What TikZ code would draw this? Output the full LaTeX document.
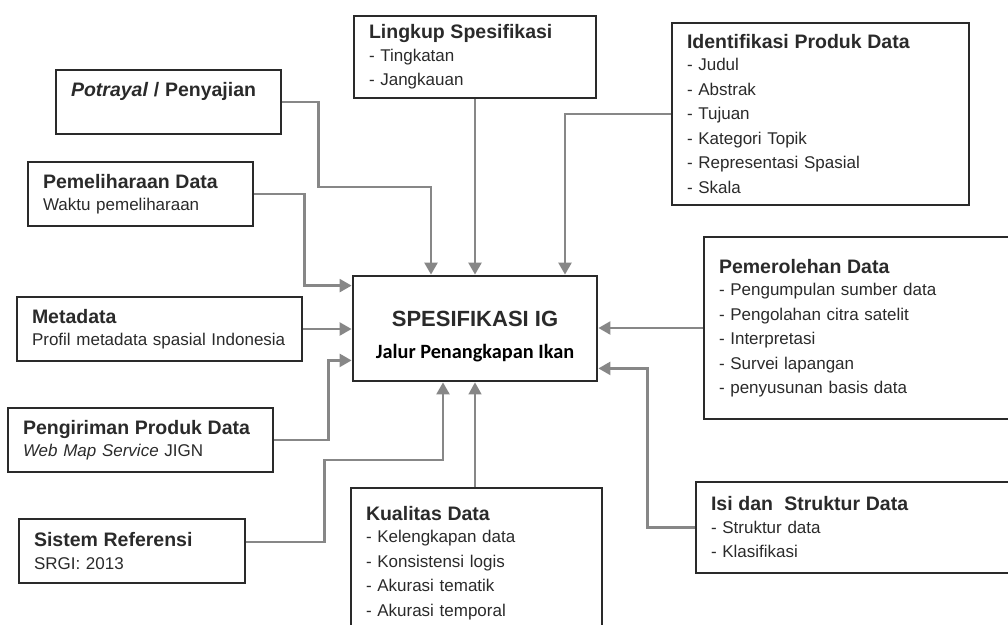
\documentclass[tikz,border=0pt]{standalone}
\usepackage{fontspec}
\setmainfont{Liberation Sans}
\newfontfamily\carlito{Carlito}
\usetikzlibrary{arrows.meta}
\definecolor{tepi}{HTML}{2A2A2A}
\definecolor{abu}{HTML}{878787}
\newcommand{\judul}[1]{{\fontsize{19.5}{24.5}\selectfont\bfseries #1}}
\begin{document}
\begin{tikzpicture}[x=1pt, y=-1pt,
  kotak/.style={draw=tepi, line width=2.8pt, rectangle, align=left, inner xsep=15pt, inner ysep=2pt,
    text=tepi, font=\fontsize{17}{24.5}\selectfont},
  panah/.style={draw=abu, line width=2.4pt, -{Triangle[width=13pt,length=12pt]}}]
\useasboundingbox (0,0) rectangle (1008,624);
\clip (0,0) rectangle (1008,624);
\node[kotak, text width=195pt, minimum height=64pt] (potrayal) at (168.5,102){\judul{\textit{Potrayal} / Penyajian}\\ \mbox{}};
\node[kotak, text width=195pt, minimum height=64pt] (pemeliharaan) at (140.5,194){\judul{Pemeliharaan Data}\\[-2pt] Waktu pemeliharaan};
\node[kotak, text width=255pt, minimum height=64pt] (metadata) at (159.5,329){\judul{Metadata}\\[-2pt] Profil metadata spasial Indonesia};
\node[kotak, text width=235pt, minimum height=64pt] (pengiriman) at (140.5,440){\judul{Pengiriman Produk Data}\\[-2pt] \textit{Web Map Service} JIGN};
\node[kotak, text width=196pt, minimum height=64pt] (sistem) at (132,551){\judul{Sistem Referensi}\\[-2pt] SRGI: 2013};
\node[kotak, text width=212pt, minimum height=82pt] (lingkup) at (475,57){\judul{Lingkup Spesifikasi}\\[-2pt] - Tingkatan\\ - Jangkauan};
\node[kotak, text width=267pt, minimum height=182pt] (identifikasi) at (820.5,114){\judul{Identifikasi Produk Data}\\[-2pt] - Judul\\ - Abstrak\\ - Tujuan\\ - Kategori Topik\\ - Representasi Spasial\\ - Skala};
\node[kotak, text width=286pt, minimum height=182pt] (pemerolehan) at (862,328){\judul{Pemerolehan Data}\\[-2pt] - Pengumpulan sumber data\\ - Pengolahan citra satelit\\ - Interpretasi\\ - Survei lapangan\\ - penyusunan basis data};
\node[kotak, text width=294pt, minimum height=91pt] (isi) at (858,527.5){\judul{Isi dan~ Struktur Data}\\[-2pt] - Struktur data\\ - Klasifikasi};
\node[kotak, text width=221pt, minimum height=150pt] (kualitas) at (476.5,563){\judul{Kualitas Data}\\[-2pt] - Kelengkapan data\\ - Konsistensi logis\\ - Akurasi tematik\\ - Akurasi temporal};
\node[kotak, align=center, minimum width=244pt, minimum height=105pt, inner xsep=0pt] (spes) at (475,328.5){\rule{0pt}{31pt}{\fontsize{22}{26}\selectfont\bfseries SPESIFIKASI IG}\\[7pt] {\carlito\bfseries\fontsize{20.3}{24}\selectfont\color{black}Jalur Penangkapan Ikan}};
\draw[panah] (potrayal.east) -| ++(36,85) -| ([xshift=-44pt]spes.north);
\draw[panah] (lingkup.south) -- (spes.north);
\draw[panah] (identifikasi.west) -| ([xshift=90pt]spes.north);
\draw[panah] (pemeliharaan.east) -- ++(50,0) |- ([yshift=-11pt]spes.north west);
\draw[panah] (metadata.east) -- (metadata.east -| spes.west);
\draw[panah] (pengiriman.east) -- ++(54,0) |- ([yshift=22pt]spes.south west);
\draw[panah] ([yshift=9pt]sistem.east) -| ++(78,-82) -| ([xshift=-32pt]spes.south);
\draw[panah, line width=1.4pt] (kualitas.north -| spes.south) -- (spes.south);
\draw[panah] (pemerolehan.west) -- (pemerolehan.west -| spes.east);
\draw[panah] (isi.west) -- ++(-47,0) |- ([yshift=14pt]spes.south east);
\end{tikzpicture}
\end{document}
